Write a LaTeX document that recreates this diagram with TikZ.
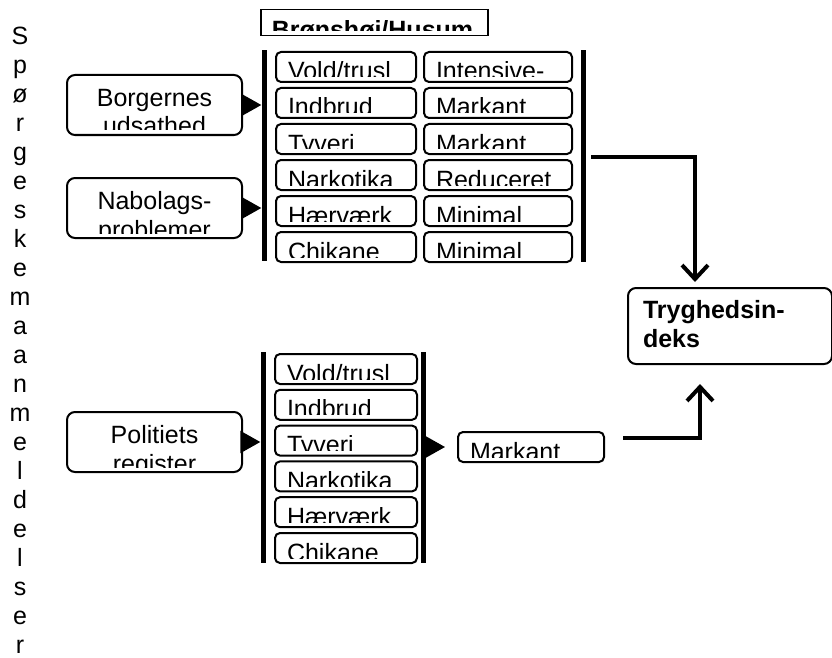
\documentclass[tikz,border=0pt]{standalone}
\usepackage{fontspec}
\setmainfont{Liberation Sans}
\usepackage{trimclip}
\usetikzlibrary{arrows.meta}

% text cut off below, as the boxes print it
\newcommand{\cut}[2][3pt]{\clipbox{0pt 0pt 0pt 0pt}{\raisebox{-#1}[\dimexpr\height-#1\relax][0pt]{#2}}}

\tikzset{
  txt/.style={font=\fontsize{25}{29}\selectfont},
  cellbox/.style={txt, draw, line width=2pt, rounded corners=5pt, anchor=north west,
    inner xsep=12pt, inner ysep=0pt, minimum height=30pt, text height=20pt, text depth=0pt, align=left},
  srcbox/.style={txt, draw, line width=2pt, rounded corners=8pt, anchor=north west,
    inner sep=0pt, minimum width=175pt, minimum height=60pt, text height=50pt, text depth=0pt},
  barline/.style={fill, inner sep=0pt, minimum width=5pt, anchor=north},
  feed/.style={line width=2pt, -{Triangle[length=20pt,width=22pt]}},
  flowline/.style={line width=4pt, -{Straight Barb[length=14pt,width=26pt]}},
}

\begin{document}
\begin{tikzpicture}[x=1pt,y=-1pt]
\useasboundingbox (0,0) rectangle (832,658);

\node[txt, align=center, inner sep=0pt, anchor=north] (side) at (20,27)
  {S\\p\\ø\\r\\g\\e\\s\\k\\e\\m\\a\\a\\n\\m\\e\\l\\d\\e\\l\\s\\e\\r};

\node[txt, draw, line width=1.5pt, anchor=north west, minimum width=227pt, minimum height=26pt,
  inner xsep=11pt, inner ysep=0pt, text width=205pt, align=left, text height=16pt, text depth=0pt,
  font=\fontsize{25}{29}\selectfont\bfseries] (area) at (260,9) {\cut[8pt]{Brønshøj/Husum}};

% kilder
\node[srcbox] (borger) at (66,74) {\cut[5pt]{\begin{tabular}[b]{@{}c@{}}Borgernes\\udsathed\end{tabular}}};
\node[srcbox] (nabo) at (66,177) {\cut[5pt]{\begin{tabular}[b]{@{}c@{}}Nabolags-\\problemer\end{tabular}}};
\node[srcbox] (politi) at (66,411) {\cut[5pt]{\begin{tabular}[b]{@{}c@{}}Politiets\\register\end{tabular}}};

\node[barline, minimum height=211pt] (barAL) at (264,50) {};
\node[barline, minimum height=212pt] (barAR) at (583,50) {};
\node[barline, minimum height=211pt] (barBL) at (263,352) {};
\node[barline, minimum height=211pt] (barBR) at (423,352) {};

\foreach \t [count=\i] in {Vold/trusl,Indbrud,Tyveri,Narkotika,Hærværk,Chikane}{
  \node[cellbox, text width=116pt] (crimeA\i) at (275,15+36*\i) {\cut{\t}};
  \node[cellbox, text width=118pt] (crimeB\i) at (274,317.2+35.8*\i) {\cut{\t}};
}
\foreach \t [count=\i] in {Intensive-,Markant,Markant,Reduceret,Minimal,Minimal}
  \node[cellbox, text width=124pt] (rateA\i) at (423,15+36*\i) {\cut{\t}};
\node[cellbox, text width=122pt] (rateB) at (457,431) {\cut{Markant}};

\node[draw, line width=2pt, rounded corners=8pt, anchor=north west, minimum width=204pt,
  minimum height=76pt, inner xsep=15pt, inner ysep=0pt, text width=174pt, align=left,
  text height=18pt, text depth=34pt,
  font=\fontsize{25}{29}\selectfont\bfseries] (tryg) at (627,287) {Tryghedsin-\\deks};

\draw[feed] (borger) -- (borger -| barAL.west);
\draw[feed] (nabo) -- (nabo -| barAL.west);
\draw[feed] (politi) -- (politi -| barBL.west);
\draw[feed, shorten >=12pt] (barBR.east |- rateB) -- (rateB.west);

\coordinate (outA) at (591,157);
\coordinate (outB) at (623,438);
\draw[flowline] (outA) -| ([xshift=68pt,yshift=5pt]tryg.north west);
\draw[flowline] (outB) -| ([xshift=73pt,yshift=-19pt]tryg.south west);
\end{tikzpicture}
\end{document}
